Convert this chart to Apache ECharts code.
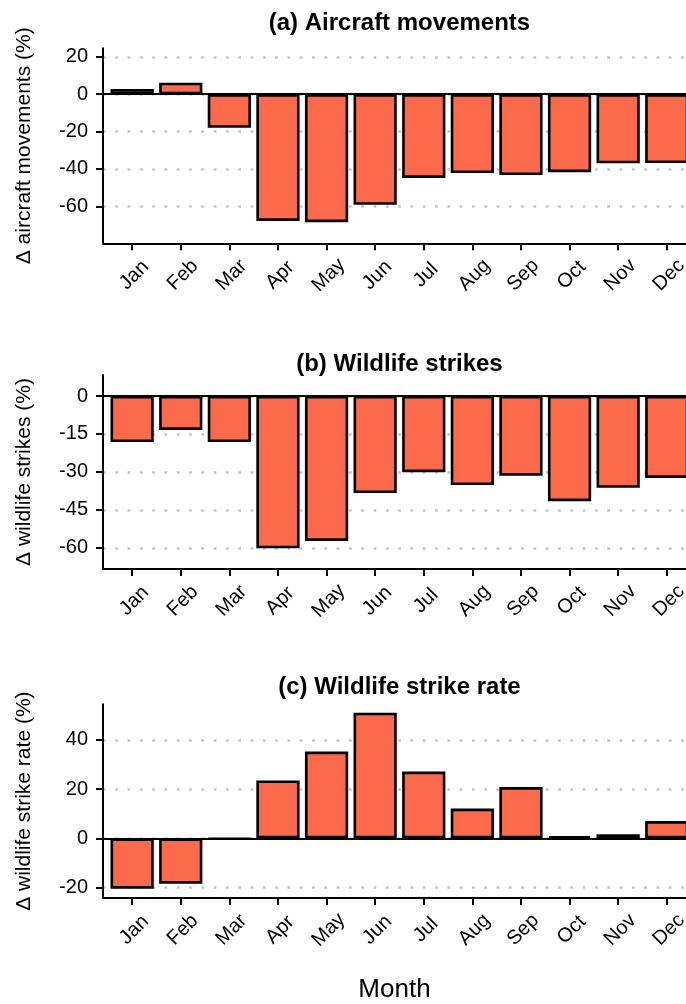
<!DOCTYPE html>
<html>
<head>
<meta charset="utf-8">
<script src="https://cdn.jsdelivr.net/npm/echarts@6/dist/echarts.min.js"></script>
<style>
  html, body { margin: 0; padding: 0; background: #ffffff; overflow: hidden; width: 686px; height: 1004px; }
  /* the plotting area runs slightly past the right edge of the page */
  #chart { width: 704px; height: 1004px; }
</style>
</head>
<body>
<div id="chart"></div>
<script>
// Monthly change relative to the reference year (%)
const months = ['Jan', 'Feb', 'Mar', 'Apr', 'May', 'Jun', 'Jul', 'Aug', 'Sep', 'Oct', 'Nov', 'Dec'];

const aircraftMovements = [2.8, 6.2, -18, -67.8, -68.5, -59.2, -44.8, -42.2, -43.3, -41.7, -37, -36.8];
const wildlifeStrikes   = [-18.2, -13.4, -18.2, -60.2, -57.3, -38.4, -30.1, -35.2, -31.5, -41.6, -36.3, -32.4];
const strikeRate        = [-20.4, -18.4, -0.3, 23.5, 35.2, 51.0, 27.1, 12.1, 20.8, 0.8, 1.7, 7.0];

const ticksA = [-60, -40, -20, 0, 20];
const ticksB = [-60, -45, -30, -15, 0];
const ticksC = [-20, 0, 20, 40];

const titles = ['(a) Aircraft movements', '(b) Wildlife strikes', '(c) Wildlife strike rate'];
const yTitles = ['\u0394 aircraft movements (%)', '\u0394 wildlife strikes (%)', '\u0394 wildlife strike rate (%)'];
const xTitle = 'Month';

const FONT = '"Liberation Sans", Arial, Helvetica, sans-serif';
const BAR_FILL = '#FB6A4B';
const GRID_LEFT = 103;
const BAND = 48.6;                 // width of one month on the x scale
const GRID_WIDTH = BAND * 12.2;    // 12 months plus 0.6 padding on each side

const panels = [
  { top: 48.3, height: 195, min: -79.8, max: 24.6, ticks: ticksA, values: aircraftMovements, titleTop: 6 },
  { top: 375,  height: 194, min: -68.4, max: 8.3,  ticks: ticksB, values: wildlifeStrikes,   titleTop: 347 },
  { top: 704.3, height: 195, min: -24.2, max: 54.4, ticks: ticksC, values: strikeRate,       titleTop: 670 }
];

const monthIdx = months.map((m, i) => i);

const grid = [], xAxis = [], yAxis = [], series = [], title = [];

panels.forEach((p, k) => {
  grid.push({ left: GRID_LEFT, top: p.top, width: GRID_WIDTH, height: p.height, containLabel: false });

  title.push({
    text: titles[k],
    left: GRID_LEFT + GRID_WIDTH / 2 - 5,
    top: p.titleTop,
    textAlign: 'center',
    textStyle: { fontFamily: FONT, fontSize: 24, fontWeight: 'bold', color: '#000' }
  });

  xAxis.push({
    type: 'value',
    gridIndex: k,
    min: -0.6,
    max: 11.6,
    splitLine: { show: false },
    axisLine: { show: true, onZero: false, lineStyle: { color: '#000', width: 2 } },
    axisTick: { show: true, customValues: monthIdx, length: 7, lineStyle: { color: '#000', width: 2 } },
    axisLabel: {
      customValues: monthIdx,
      formatter: v => months[Math.round(v)],
      rotate: 45,
      align: 'center',
      verticalAlign: 'middle',
      margin: 34,
      padding: [6, 0, 0, 6],
      fontFamily: FONT,
      fontSize: 20,
      color: '#000'
    },
    name: k === 2 ? xTitle : '',
    nameLocation: 'middle',
    nameGap: 79,
    nameTextStyle: { fontFamily: FONT, fontSize: 26, color: '#000', padding: [0, 10, 0, 0] }
  });

  yAxis.push({
    type: 'value',
    gridIndex: k,
    min: p.min,
    max: p.max,
    axisLine: { show: true, onZero: false, lineStyle: { color: '#000', width: 2 } },
    axisTick: { show: true, customValues: p.ticks, length: 7, lineStyle: { color: '#000', width: 2 } },
    axisLabel: {
      customValues: p.ticks,
      margin: 15,
      fontFamily: FONT,
      fontSize: 20,
      color: '#000'
    },
    splitLine: {
      show: true,
      lineStyle: { color: '#C4C4C4', width: 2.7, type: [2.7, 9.6], dashOffset: 0 }
    },
    name: yTitles[k],
    nameLocation: 'middle',
    nameRotate: 90,
    nameGap: 68,
    nameTextStyle: { fontFamily: FONT, fontSize: 21, color: '#000' }
  });

  series.push({
    type: 'bar',
    xAxisIndex: k,
    yAxisIndex: k,
    barWidth: BAND * 0.9 - 0.5,
    data: p.values.map((v, i) => [i, v]),
    itemStyle: { color: BAR_FILL, borderColor: '#000', borderWidth: 2.6 },
    silent: true,
    markLine: {
      silent: true,
      symbol: 'none',
      label: { show: false },
      lineStyle: { color: '#000', width: 2, type: 'solid' },
      data: [{ yAxis: 0 }]
    }
  });
});

const chart = echarts.init(document.getElementById('chart'), null, { renderer: 'canvas' });
chart.setOption({
  animation: false,
  backgroundColor: '#ffffff',
  title, grid, xAxis, yAxis, series
});
</script>
</body>
</html>
